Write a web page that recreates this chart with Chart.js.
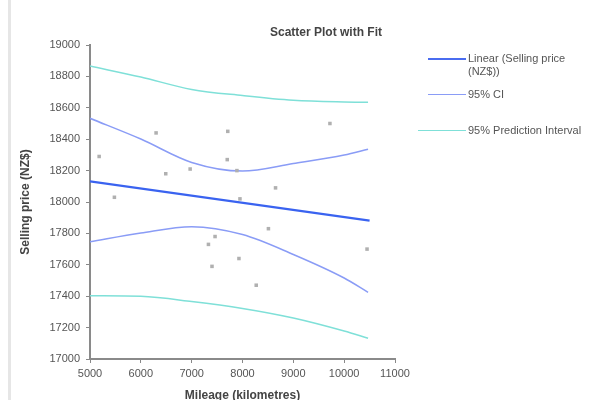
<!DOCTYPE html>
<html>
<head>
<meta charset="utf-8">
<script src="https://cdn.jsdelivr.net/npm/chart.js@4/dist/chart.umd.min.js"></script>
<style>
  body { margin: 0; background: #fff; font-family: "Liberation Sans", Arial, sans-serif; }
  #wrap { position: relative; width: 614px; height: 400px; overflow: hidden; }
  #frame { position: absolute; left: 8px; top: 0; width: 3px; height: 400px; background: #e6e6e6; }
  #title { position: absolute; top: 25px; left: 270px; font-size: 12px; font-weight: bold; color: #444; white-space: nowrap; }
  .leg { position: absolute; font-size: 11px; color: #555; line-height: 13px; }
  .leg i { position: absolute; top: 6px; height: 0; }
  .leg span { display: block; margin-left: 40px; width: 122px; }
</style>
</head>
<body>
<div id="wrap">
  <div id="frame"></div>
  <canvas id="chart" width="614" height="400"></canvas>
  <div id="title">Scatter Plot with Fit</div>
  <div id="legend"></div>
</div>
<script>
// tick labels
const xTicks = [5000, 6000, 7000, 8000, 9000, 10000, 11000];
const yTicks = [17000, 17200, 17400, 17600, 17800, 18000, 18200, 18400, 18600, 18800, 19000];

// observations
const mileage = [6300, 7710, 5180, 7700, 6970, 6490, 7890, 5480, 7950, 7460, 7330, 7930, 7400, 9720, 8650, 8510, 10450, 8270];
const price = [18440, 18450, 18290, 18270, 18210, 18180, 18200, 18030, 18020, 17780, 17730, 17640, 17590, 18500, 18090, 17830, 17700, 17470];

// fitted line
const fitX = [5000, 10500];
const fitY = [18131, 17881];

// bands, read at each 1000
const bandX = [5000, 6000, 7000, 8000, 9000, 10000, 10470];
const ciUpper = [18533, 18401, 18252, 18197, 18245, 18299, 18336];
const ciLower = [17747, 17803, 17843, 17793, 17666, 17516, 17425];
const piUpper = [18866, 18796, 18717, 18678, 18648, 18637, 18635];
const piLower = [17403, 17399, 17366, 17322, 17261, 17178, 17132];

const legendItems = [
  { label: "Linear (Selling price (NZ$))", color: "#4a6cf0", width: 2, top: 52 },
  { label: "95% CI", color: "#8a9cf6", width: 1.5, top: 88 },
  { label: "95% Prediction Interval", color: "#7fe0d8", width: 1.5, top: 124 },
];

const pts = (xs, ys) => xs.map((x, i) => ({ x: x, y: ys[i] }));

function band(label, xs, ys, color) {
  return {
    label: label,
    data: pts(xs, ys),
    showLine: true,
    borderColor: color,
    borderWidth: 1.5,
    pointRadius: 0,
    tension: 0.4,
    cubicInterpolationMode: "monotone",
    fill: false,
  };
}

Chart.defaults.font.family = '"Liberation Sans", Arial, sans-serif';
Chart.defaults.font.size = 11;
Chart.defaults.color = "#555";

new Chart(document.getElementById("chart").getContext("2d"), {
  type: "scatter",
  data: {
    datasets: [
      {
        label: "Selling price",
        data: pts(mileage, price),
        pointStyle: "rect",
        pointRadius: 2.5,
        backgroundColor: "#b0b0b0",
        borderColor: "#b0b0b0",
        borderWidth: 0,
      },
      {
        label: "Linear",
        data: pts(fitX, fitY),
        showLine: true,
        borderColor: "#3a63f0",
        borderWidth: 2.2,
        pointRadius: 0,
      },
      band("CI upper", bandX, ciUpper, "#8a9cf6"),
      band("CI lower", bandX, ciLower, "#8a9cf6"),
      band("PI upper", bandX, piUpper, "#7fe0d8"),
      band("PI lower", bandX, piLower, "#7fe0d8"),
    ],
  },
  options: {
    responsive: false,
    animation: false,
    layout: { padding: { left: 18, right: 219, top: 45, bottom: 0 } },
    plugins: { legend: { display: false }, tooltip: { enabled: false } },
    scales: {
      x: {
        type: "linear",
        min: 5000,
        max: 11000,
        afterBuildTicks: s => { s.ticks = xTicks.map(v => ({ value: v })); },
        afterFit: s => { s.height = 41; },
        grid: { drawOnChartArea: false, tickLength: 4, color: "#888", tickColor: "#888" },
        border: { color: "#8a8a8a", width: 2 },
        ticks: { padding: 4, callback: v => String(v), maxRotation: 0 },
        title: { display: true, text: "Mileage (kilometres)", color: "#444", font: { weight: "bold", size: 12 }, padding: { top: 0, bottom: -3 } },
      },
      y: {
        min: 17000,
        max: 19000,
        afterBuildTicks: s => { s.ticks = yTicks.map(v => ({ value: v })); },
        afterFit: s => { s.width = 72; },
        grid: { drawOnChartArea: false, tickLength: 4, color: "#888", tickColor: "#888" },
        border: { color: "#8a8a8a", width: 2 },
        ticks: { padding: 6, callback: v => String(v) },
        title: { display: true, text: "Selling price (NZ$)", color: "#444", font: { weight: "bold", size: 12 }, padding: { top: 0, bottom: 0 } },
      },
    },
  },
});

const legend = document.getElementById("legend");
legendItems.forEach((it, i) => {
  const d = document.createElement("div");
  d.className = "leg";
  d.style.left = "428px";
  d.style.top = it.top + "px";
  const lineLeft = i === 2 ? -10 : 0;
  d.innerHTML = '<i style="left:' + lineLeft + 'px;width:' + (38 - lineLeft) + 'px;border-top:' + it.width + 'px solid ' + it.color + '"></i><span>' + it.label + "</span>";
  legend.appendChild(d);
});
</script>
</body>
</html>
